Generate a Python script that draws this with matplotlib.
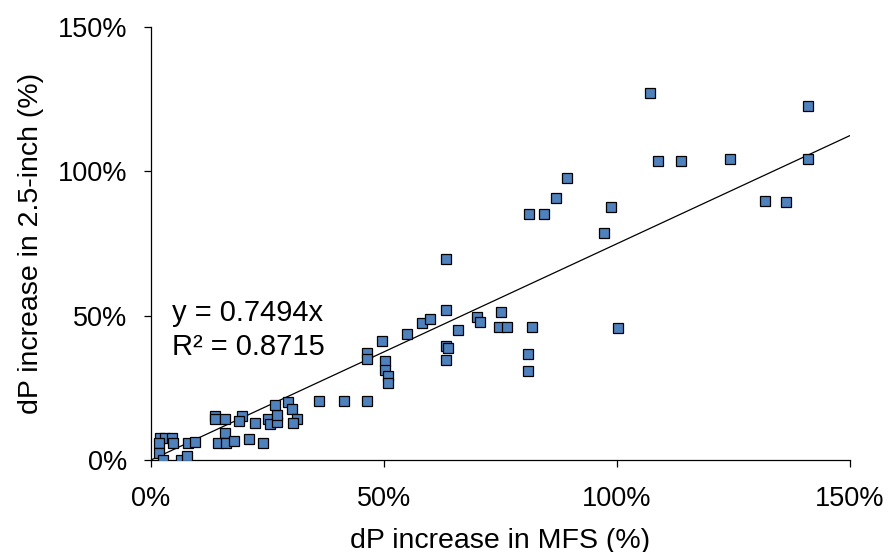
import numpy as np
import matplotlib.pyplot as plt
from matplotlib.ticker import FuncFormatter

plt.rcParams['font.family'] = ['Liberation Sans', 'DejaVu Sans']

# dP increase in MFS (%) vs dP increase in 2.5-inch (%)
xv = [1.9, 3.0, 4.5, 1.7, 4.7, 1.7, 2.6, 6.4, 7.7, 7.9, 9.4,
      13.7, 13.7, 15.9, 19.5, 18.9, 22.3, 25.1, 25.5, 27.0, 27.0, 26.6,
      29.4, 30.3, 31.3, 30.5, 15.9, 14.4, 16.1, 17.8, 21.0, 24.0,
      36.1, 41.4, 46.4, 46.4, 46.4, 49.6, 50.2, 50.2, 50.9, 50.9,
      54.9, 58.2, 59.9, 63.3, 65.9, 63.3, 63.7, 63.3, 63.3,
      70.0, 70.6, 75.1, 74.7, 76.4, 81.8, 80.9, 80.9, 100.2,
      107.1, 108.8, 113.7, 89.3, 86.9, 81.1, 84.3, 98.7, 97.2,
      141.0, 124.2, 141.0, 131.8, 136.3]
yv = [7.6, 7.6, 7.6, 5.9, 5.9, 2.4, 0.0, 0.0, 1.4, 5.9, 6.2,
      15.2, 14.2, 14.2, 15.2, 13.5, 12.8, 14.2, 12.5, 13.2, 15.6, 19.1,
      20.1, 17.7, 14.2, 12.8, 9.4, 5.9, 5.9, 6.6, 7.3, 5.9,
      20.4, 20.4, 20.4, 37.1, 35.0, 41.2, 34.3, 31.2, 29.1, 26.7,
      43.6, 47.5, 48.8, 52.0, 45.0, 39.5, 38.8, 34.6, 69.6,
      49.5, 47.8, 51.3, 46.1, 46.1, 46.1, 36.7, 30.8, 45.7,
      127.1, 103.6, 103.6, 97.7, 90.8, 85.2, 85.2, 87.6, 78.6,
      122.6, 104.3, 104.3, 89.7, 89.4]
slope = 0.7494
r2 = 0.8715

fig = plt.figure(figsize=(8.91, 5.52), dpi=100)
ax = fig.add_axes([0.1695, 0.1667, 0.7845, 0.7843])

xl = np.array([0, 150])
ax.plot(xl, slope*xl, color='black', lw=0.9, zorder=2)
ax.plot(xv, yv, ls='none', marker='s', ms=7.8, mfc='#4F81BD',
        mec='black', mew=0.9, zorder=3)

ax.set_xlim(0, 150)
ax.set_ylim(0, 150)
ax.set_xticks([0, 50, 100, 150])
ax.set_yticks([0, 50, 100, 150])
pct = FuncFormatter(lambda v, p: '%d%%' % v)
ax.xaxis.set_major_formatter(pct)
ax.yaxis.set_major_formatter(pct)
ax.tick_params(labelsize=19.5, length=5, width=0.9, direction='out')
ax.tick_params(axis='x', pad=14)
ax.tick_params(axis='y', pad=12)
for s in ['top', 'right']:
    ax.spines[s].set_visible(False)
for s in ['left', 'bottom']:
    ax.spines[s].set_linewidth(0.9)
ax.set_xlabel('dP increase in MFS (%)', fontsize=20.5, labelpad=11)
ax.set_ylabel('dP increase in 2.5-inch (%)', fontsize=20.5, labelpad=10)

ax.text(4.5, 45, 'y = %.4fx\nR² = %.4f' % (slope, r2), fontsize=21,
        va='center', ha='left', linespacing=1.25)

fig.savefig('out.png', dpi=100)
